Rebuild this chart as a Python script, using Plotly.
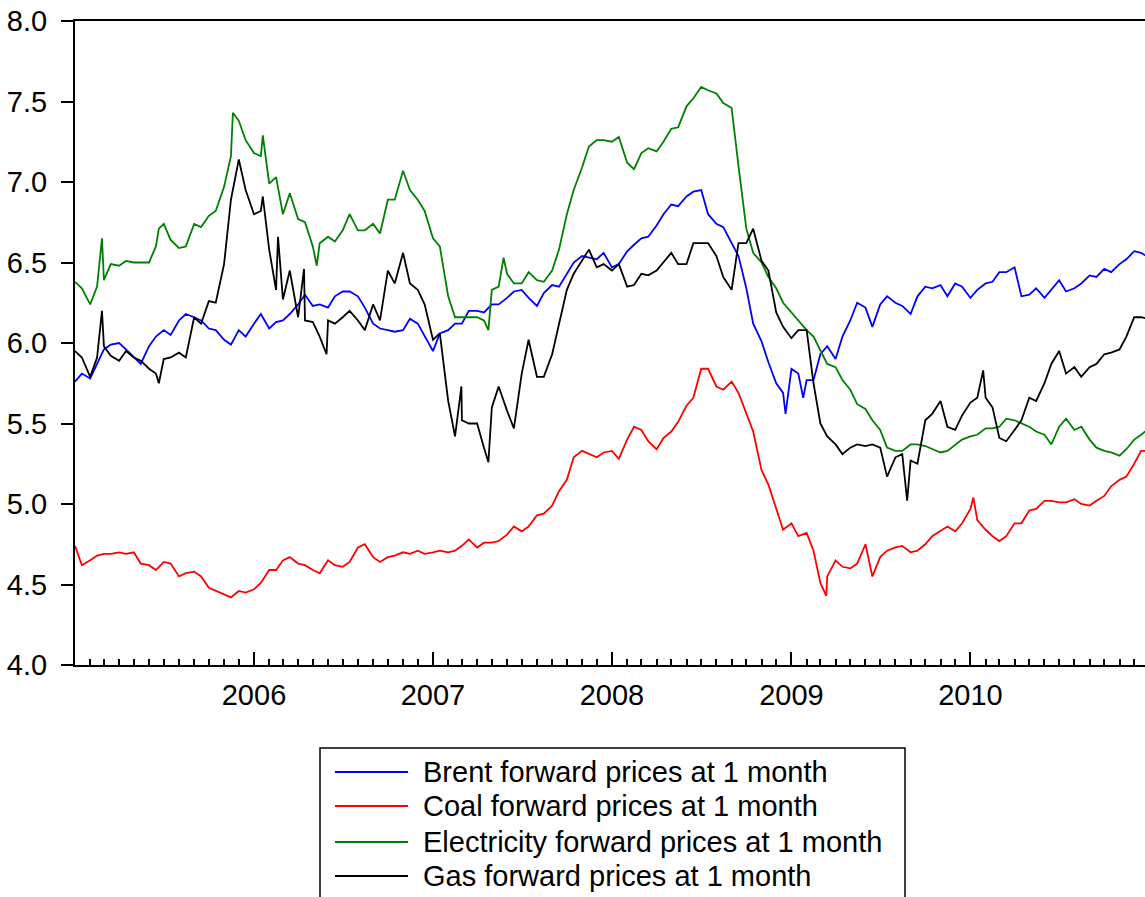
import plotly.graph_objects as go

# ---------------- data (semi-monthly readings, 1st and 15th of each month) ----------------
months = [f"{y}-{m:02d}" for y in range(2005, 2011) for m in range(1, 13)]
grid_dates = [f"{ym}-{d}" for ym in months for d in ("01", "15")] + ["2010-12-31"]

series_names = [
    "Brent forward prices at 1 month",
    "Coal forward prices at 1 month",
    "Electricity forward prices at 1 month",
    "Gas forward prices at 1 month",
]
series_colors = ["#0000ff", "#ff0000", "#008000", "#000000"]

brent = [
    5.76, 5.81, 5.78, 5.87, 5.96, 5.99, 6.00, 5.96, 5.91, 5.87, 5.98, 6.04, 6.08, 6.05, 6.14, 6.18, 6.16, 6.14, 6.09, 6.08, 6.02, 5.99, 6.08, 6.04, 6.12,
    6.18, 6.09, 6.13, 6.14, 6.18, 6.24, 6.30, 6.23, 6.24, 6.22, 6.29, 6.32, 6.32, 6.29, 6.22, 6.12, 6.09, 6.08, 6.07, 6.08, 6.15, 6.12, 6.04, 5.95,
    6.06, 6.08, 6.12, 6.12, 6.20, 6.20, 6.19, 6.24, 6.24, 6.28, 6.32, 6.33, 6.28, 6.23, 6.31, 6.36, 6.35, 6.43, 6.50, 6.54, 6.53, 6.52, 6.56, 6.47,
    6.49, 6.57, 6.61, 6.65, 6.66, 6.73, 6.80, 6.86, 6.85, 6.91, 6.94, 6.95, 6.80, 6.74, 6.72, 6.62, 6.54, 6.34, 6.12, 6.01, 5.88, 5.75, 5.69, 5.84,
    5.81, 5.77, 5.77, 5.93, 5.98, 5.90, 6.04, 6.14, 6.25, 6.22, 6.10, 6.24, 6.29, 6.25, 6.23, 6.18, 6.29, 6.35, 6.34, 6.36, 6.29, 6.37, 6.35, 6.28,
    6.33, 6.37, 6.38, 6.44, 6.44, 6.47, 6.29, 6.30, 6.34, 6.28, 6.33, 6.39, 6.32, 6.34, 6.37, 6.42, 6.41, 6.46, 6.44, 6.49, 6.52, 6.57, 6.56, 6.53,
]
coal = [
    4.74, 4.62, 4.65, 4.68, 4.69, 4.69, 4.70, 4.69, 4.70, 4.63, 4.62, 4.59, 4.64, 4.63, 4.55, 4.57, 4.58, 4.55, 4.48, 4.46, 4.44, 4.42, 4.46, 4.45, 4.47,
    4.51, 4.59, 4.59, 4.65, 4.67, 4.63, 4.62, 4.59, 4.57, 4.65, 4.62, 4.61, 4.64, 4.73, 4.75, 4.67, 4.64, 4.67, 4.68, 4.70, 4.69, 4.71, 4.69, 4.70,
    4.71, 4.70, 4.71, 4.74, 4.78, 4.73, 4.76, 4.76, 4.77, 4.81, 4.86, 4.83, 4.86, 4.93, 4.94, 4.99, 5.08, 5.15, 5.29, 5.33, 5.31, 5.29, 5.32, 5.33,
    5.28, 5.40, 5.48, 5.46, 5.39, 5.34, 5.41, 5.45, 5.51, 5.61, 5.66, 5.84, 5.84, 5.73, 5.71, 5.76, 5.69, 5.56, 5.45, 5.21, 5.12, 4.97, 4.84, 4.88,
    4.80, 4.82, 4.71, 4.51, 4.55, 4.65, 4.61, 4.60, 4.63, 4.75, 4.55, 4.67, 4.71, 4.73, 4.74, 4.70, 4.71, 4.75, 4.80, 4.83, 4.86, 4.83, 4.88, 4.97,
    4.90, 4.84, 4.80, 4.77, 4.80, 4.88, 4.88, 4.96, 4.97, 5.02, 5.02, 5.01, 5.01, 5.03, 5.00, 4.99, 5.02, 5.05, 5.11, 5.15, 5.17, 5.25, 5.33, 5.33,
]
electricity = [
    6.38, 6.34, 6.24, 6.35, 6.39, 6.49, 6.48, 6.51, 6.50, 6.50, 6.50, 6.60, 6.74, 6.64, 6.59, 6.60, 6.74, 6.72, 6.79, 6.82, 6.97, 7.16, 7.38, 7.26, 7.18,
    7.16, 6.99, 7.03, 6.80, 6.93, 6.77, 6.75, 6.60, 6.62, 6.66, 6.63, 6.70, 6.80, 6.70, 6.70, 6.74, 6.68, 6.89, 6.89, 7.07, 6.95, 6.89, 6.82, 6.65,
    6.60, 6.29, 6.16, 6.16, 6.16, 6.16, 6.14, 6.33, 6.35, 6.43, 6.37, 6.37, 6.44, 6.39, 6.38, 6.45, 6.58, 6.80, 6.95, 7.09, 7.22, 7.26, 7.26, 7.25,
    7.28, 7.12, 7.08, 7.18, 7.21, 7.19, 7.25, 7.33, 7.34, 7.47, 7.52, 7.59, 7.57, 7.55, 7.49, 7.46, 7.10, 6.71, 6.56, 6.50, 6.41, 6.34, 6.25, 6.19,
    6.14, 6.08, 6.04, 5.95, 5.87, 5.85, 5.77, 5.71, 5.62, 5.59, 5.52, 5.46, 5.35, 5.33, 5.33, 5.37, 5.37, 5.36, 5.34, 5.32, 5.33, 5.37, 5.40, 5.42,
    5.43, 5.47, 5.47, 5.48, 5.53, 5.52, 5.50, 5.48, 5.45, 5.43, 5.37, 5.48, 5.53, 5.46, 5.48, 5.40, 5.35, 5.33, 5.32, 5.30, 5.34, 5.40, 5.43, 5.47,
]
gas = [
    5.95, 5.91, 5.79, 5.91, 5.98, 5.92, 5.89, 5.95, 5.91, 5.89, 5.84, 5.81, 5.90, 5.91, 5.94, 5.91, 6.16, 6.12, 6.26, 6.25, 6.49, 6.89, 7.14, 6.95, 6.80,
    6.82, 6.58, 6.33, 6.27, 6.45, 6.16, 6.14, 6.13, 6.04, 6.14, 6.12, 6.16, 6.20, 6.14, 6.08, 6.24, 6.14, 6.45, 6.37, 6.56, 6.37, 6.33, 6.24, 6.02,
    6.06, 5.64, 5.42, 5.52, 5.50, 5.50, 5.35, 5.60, 5.73, 5.58, 5.47, 5.81, 6.02, 5.79, 5.79, 5.93, 6.12, 6.33, 6.43, 6.51, 6.58, 6.47, 6.49, 6.45,
    6.49, 6.35, 6.36, 6.43, 6.42, 6.45, 6.50, 6.56, 6.49, 6.49, 6.62, 6.62, 6.62, 6.54, 6.41, 6.33, 6.62, 6.62, 6.71, 6.51, 6.45, 6.19, 6.10, 6.03,
    6.08, 6.08, 5.75, 5.50, 5.42, 5.37, 5.31, 5.35, 5.37, 5.36, 5.37, 5.35, 5.17, 5.29, 5.31, 5.27, 5.25, 5.52, 5.56, 5.64, 5.48, 5.46, 5.55, 5.63,
    5.66, 5.66, 5.60, 5.41, 5.39, 5.46, 5.52, 5.66, 5.64, 5.75, 5.87, 5.95, 5.81, 5.85, 5.79, 5.85, 5.87, 5.93, 5.94, 5.96, 6.04, 6.16, 6.16, 6.15,
]

# short-lived spikes read between the semi-monthly readings
brent_spike_dates = ["2008-12-20", "2009-01-25"]
brent_spike_vals = [5.56, 5.66]
coal_spike_dates = ["2009-03-13", "2010-01-07"]
coal_spike_vals = [4.43, 5.04]
elec_spike_dates = ["2005-02-25", "2005-06-21", "2005-11-19", "2006-01-19", "2006-05-09", "2007-04-24", "2007-05-25"]
elec_spike_vals = [6.65, 6.71, 7.43, 7.29, 6.48, 6.08, 6.53]
gas_spike_dates = ["2005-02-25", "2005-06-21", "2006-01-19", "2006-02-19", "2006-04-13", "2006-05-29",
                   "2007-02-28", "2007-04-24", "2009-08-25", "2010-01-27"]
gas_spike_vals = [6.20, 5.75, 6.91, 6.66, 6.46, 5.93, 5.73, 5.26, 5.02, 5.83]

year_ticks = ["2006-01-01", "2007-01-01", "2008-01-01", "2009-01-01", "2010-01-01"]
year_labels = ["2006", "2007", "2008", "2009", "2010"]

for s in (brent, coal, electricity, gas):
    assert len(s) == len(grid_dates), (len(s), len(grid_dates))


def merge(vals, extra_dates, extra_vals):
    pts = sorted(list(zip(grid_dates, vals)) + list(zip(extra_dates, extra_vals)))
    return [p[0] for p in pts], [p[1] for p in pts]


series = [
    merge(brent, brent_spike_dates, brent_spike_vals),
    merge(coal, coal_spike_dates, coal_spike_vals),
    merge(electricity, elec_spike_dates, elec_spike_vals),
    merge(gas, gas_spike_dates, gas_spike_vals),
]

# ---------------- layout geometry (pixels) ----------------
W, H = 1145, 897
L, T, B = 75, 21, 665
R = W
FONT = "Liberation Sans, Arial, Helvetica, sans-serif"
FS = 29


def px(xp):
    return (xp - L) / (R - L)


def py(yp):
    return (B - yp) / (B - T)


fig = go.Figure()
for (d, v), name, col in zip(series, series_names, series_colors):
    fig.add_trace(go.Scatter(x=d, y=v, mode="lines", name=name,
                             line=dict(color=col, width=1.8), showlegend=False))

fig.update_layout(
    width=W, height=H,
    margin=dict(l=L, r=0, t=T, b=H - B, pad=0, autoexpand=False),
    paper_bgcolor="white", plot_bgcolor="white",
    font=dict(family=FONT, size=FS, color="black"),
    xaxis=dict(
        type="date", range=["2005-01-01", "2010-12-23"], automargin=False,
        tickmode="array", tickvals=year_ticks, ticktext=year_labels,
        ticks="inside", ticklen=13, tickwidth=1.5, tickcolor="black",
        showline=True, linecolor="black", linewidth=2, mirror=True,
        showgrid=False, zeroline=False, ticklabelstandoff=3,
        tickfont=dict(family=FONT, size=FS, color="black"),
        minor=dict(tickmode="linear", tick0="2005-01-01", dtick="M1",
                   ticks="inside", ticklen=6, tickwidth=1.5, tickcolor="black", showgrid=False),
    ),
    yaxis=dict(
        range=[4, 8], tickmode="linear", tick0=4, dtick=0.5, tickformat=".1f", automargin=False,
        ticks="outside", ticklen=12, tickwidth=1.5, tickcolor="black",
        showline=True, linecolor="black", linewidth=2,
        showgrid=False, zeroline=False, ticklabelstandoff=8,
        tickfont=dict(family=FONT, size=FS, color="black"),
    ),
)

# ---------------- legend box drawn below the plot ----------------
box_l, box_r, box_t, box_b = 320, 905, 748, 905
fig.add_shape(type="rect", xref="paper", yref="paper",
              x0=px(box_l), x1=px(box_r), y0=py(box_b), y1=py(box_t),
              line=dict(color="black", width=1.5), fillcolor="white", layer="above")
row_y = [772, 806, 842, 876]
for name, col, yy in zip(series_names, series_colors, row_y):
    fig.add_shape(type="line", xref="paper", yref="paper",
                  x0=px(335), x1=px(408), y0=py(yy), y1=py(yy),
                  line=dict(color=col, width=2))
    fig.add_annotation(xref="paper", yref="paper", x=px(421), y=py(yy),
                       text=name, showarrow=False, xanchor="left", yanchor="middle",
                       font=dict(family=FONT, size=FS, color="black"))

fig.write_html("out.html", config={"displayModeBar": False},
               post_script="document.body.style.margin='0px';document.body.style.padding='0px';")
